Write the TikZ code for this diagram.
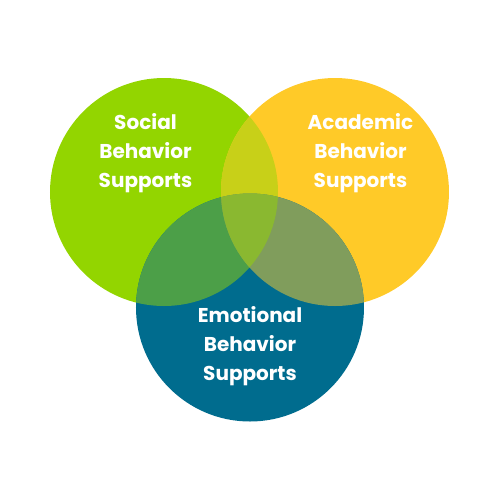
\documentclass[tikz,border=0pt]{standalone}
\usepackage{fontspec}
\newfontfamily\lblfont{Poppins}
\definecolor{cgreen}{RGB}{147,213,0}
\definecolor{cyellow}{RGB}{255,202,40}
\definecolor{cblue}{RGB}{0,108,142}
\definecolor{cgy}{RGB}{200,208,24}
\definecolor{cgb}{RGB}{76,159,72}
\definecolor{cyb}{RGB}{128,157,92}
\definecolor{cgyb}{RGB}{138,184,48}
\tikzset{lbl/.style={text=white, font=\lblfont\bfseries\fontsize{10}{14.5}\selectfont, align=center, inner sep=0pt, anchor=base}}
\begin{document}
\begin{tikzpicture}[x=0.5pt,y=-0.5pt]
\useasboundingbox[fill=white] (0,0) rectangle (500,500);
\def\rr{114}
\coordinate (G) at (164,192);
\coordinate (Y) at (335,192);
\coordinate (B) at (250,307.5);
\fill[cgreen] (G) circle[radius=\rr];
\fill[cyellow] (Y) circle[radius=\rr];
\fill[cblue] (B) circle[radius=\rr];
\begin{scope}
\clip (G) circle[radius=\rr];
\fill[cgy] (Y) circle[radius=\rr];
\fill[cgb] (B) circle[radius=\rr];
\end{scope}
\begin{scope}
\clip (Y) circle[radius=\rr];
\fill[cyb] (B) circle[radius=\rr];
\end{scope}
\begin{scope}
\clip (G) circle[radius=\rr];
\clip (Y) circle[radius=\rr];
\fill[cgyb] (B) circle[radius=\rr];
\end{scope}
\node[lbl] (social) at (145.5,187) {Social\\Behavior\\Supports};
\node[lbl] (academic) at (360.5,187) {Academic\\Behavior\\Supports};
\node[lbl] (emotional) at (250,380) {Emotional\\Behavior\\Supports};
\end{tikzpicture}
\end{document}
